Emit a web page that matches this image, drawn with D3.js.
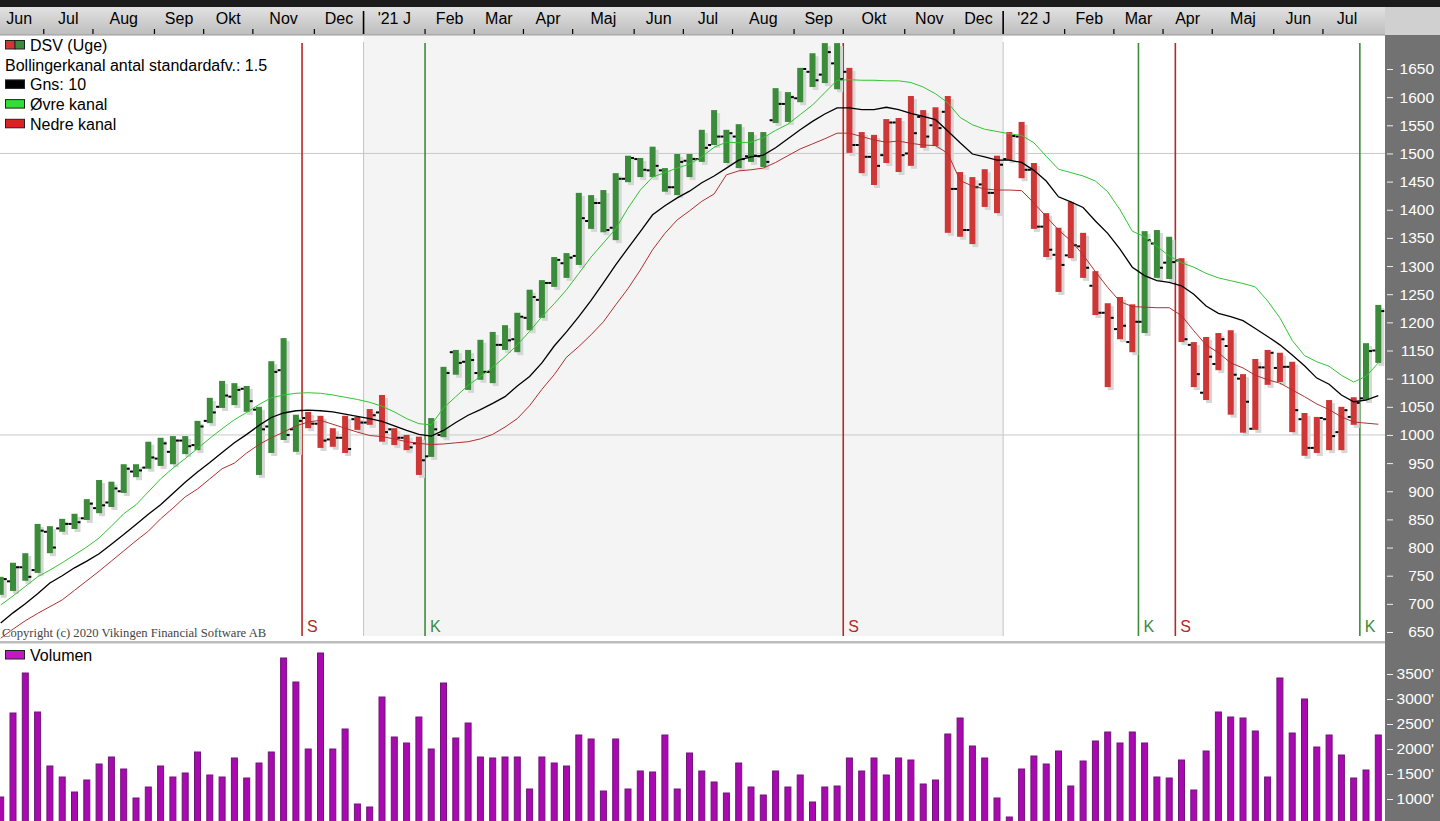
<!DOCTYPE html>
<html>
<head>
<meta charset="utf-8">
<script src="https://cdnjs.cloudflare.com/ajax/libs/d3/7.8.5/d3.min.js"></script>
<style>
body{margin:0;background:#fff;overflow:hidden}
svg{display:block;font-family:"Liberation Sans",Arial,sans-serif}
</style>
</head>
<body>
<div id="chart"></div>
<script>
// DSV weekly bars, first week starts sunday 7 jun 2020
const firstWeek = new Date(2020, 5, 7);
const monthNames = ["J","Feb","Mar","Apr","Maj","Jun","Jul","Aug","Sep","Okt","Nov","Dec"];

const open = [722,740,765,760,828,834,842,852,870,880,900,935,942,958,970,990,982,1025,1050,1068,1082,1045,1015,1115,1010,
  1030,1020,992,995,1028,1022,1040,1010,995,985,
  962,1000,1147,1130,1110,1112,1160,1170,1208,1240,1270,1305,1318,1380,1412,1368,1455,1490,1470,1470,1440,1487,1490,1515,1530,1530,1495,1495,1559,1588,1598,1645,1640,1660,
  1645,1515,1494,1497,1555,1500,1565,1550,1574,1437,1364,1445,1430,1490,1530,1471,1370,1320,1319,1335,1265,1217,1188,1165,
  1201,1340,1306,
  1310,1160,1075,1126,1158,1100,1011,1120,1119,1121,1028,977,1028,1005,1032,
  1065,1150];
const high = [748,773,790,842,838,851,860,886,920,917,948,948,988,995,998,998,1025,1066,1096,1092,1087,1050,1131,1172,1036,
  1041,1034,1012,1034,1032,1046,1071,1012,1000,997,
  1030,1121,1151,1151,1169,1183,1195,1217,1258,1275,1316,1323,1430,1426,1435,1465,1496,1492,1512,1474,1499,1499,1542,1577,1542,1552,1538,1538,1616,1609,1652,1678,1696,1696,
  1652,1538,1533,1561,1563,1602,1577,1582,1602,1467,1458,1472,1496,1538,1556,1483,1394,1368,1414,1359,1291,1234,1245,1232,
  1362,1364,1352,
  1314,1165,1174,1181,1186,1108,1135,1151,1146,1130,1039,1032,1062,1050,1067,
  1163,1231];
const low = [716,723,741,755,790,828,833,849,861,872,897,925,940,945,948,966,973,1021,1048,1053,1041,929,968,991,970,
  1012,977,979,968,1009,1018,988,982,973,929,
  961,996,1107,1080,1098,1092,1151,1147,1186,1208,1263,1279,1302,1366,1360,1346,1449,1458,1458,1432,1426,1458,1485,1515,1483,1474,1485,1476,1554,1556,1591,1618,1625,1614,
  1501,1465,1444,1483,1467,1478,1510,1513,1359,1352,1339,1405,1394,1488,1456,1366,1316,1254,1314,1279,1213,1085,1170,1147,
  1181,1279,1277,
  1165,1085,1062,1115,1036,1004,1009,1089,1094,1005,963,968,973,973,1018,
  1062,1128];
const close = [744,765,748,830,800,842,845,878,875,905,940,937,960,985,990,980,1015,1040,1070,1080,1060,1010,1112,1000,1025,
  1020,990,995,975,1022,1035,1005,995,978,955,
  1010,1110,1128,1133,1112,1160,1168,1210,1245,1270,1311,1315,1385,1412,1364,1455,1492,1471,1478,1440,1485,1490,1510,1530,1536,1490,1496,1485,1588,1600,1650,1630,1680,1632,
  1515,1494,1478,1555,1497,1536,1530,1545,1437,1364,1440,1430,1480,1531,1471,1370,1329,1302,1337,1297,1217,1208,1194,1201,
  1346,1297,1307,
  1170,1108,1139,1170,1107,1059,1120,1146,1121,1044,977,1030,998,1044,1057,
  1149,1220];

// bollinger channel (10 weeks, 1.5 sd)
const bandUpper = [698,714,731,748,760,773,787,801,817,838,860,876,899,922,941,958,976,994,1011,1027,1040,1054,1066,1071,1074,
  1075,1074,1071,1067,1063,1058,1051,1041,1029,1020,
  1018,1048,1068,1088,1104,1120,1139,1160,1184,1210,1233,1258,1287,1316,1341,1366,1403,1435,1458,1466,1474,1481,1494,1511,1520,1519,1520,1528,1541,1552,1569,1586,1608,1630,
  1631,1630,1630,1629,1629,1626,1618,1606,1590,1564,1551,1543,1539,1535,1532,1519,1495,1472,1466,1460,1451,1432,1400,1362,
  1352,1335,1318,
  1306,1298,1287,1279,1274,1269,1263,1238,1208,1168,1141,1130,1122,1106,1094,
  1104,1128];
const bandMid = [666,684,700,718,737,750,764,776,789,806,823,841,859,876,896,916,934,951,969,986,1001,1017,1031,1039,1043,
  1044,1043,1041,1037,1033,1029,1024,1016,1008,1001,
  998,1008,1022,1035,1045,1056,1068,1087,1104,1128,1158,1183,1210,1239,1270,1302,1332,1361,1391,1407,1421,1433,1448,1460,1474,1488,1494,1497,1510,1526,1542,1557,1570,1581,
  1581,1578,1578,1582,1578,1571,1566,1560,1540,1519,1499,1494,1488,1488,1484,1470,1451,1423,1414,1404,1380,1358,1330,1298,
  1283,1274,1271,
  1265,1250,1229,1216,1210,1203,1189,1175,1160,1142,1123,1101,1090,1071,1059,
  1062,1070];
const bandLower = [639,655,670,683,695,707,724,741,758,776,794,812,829,851,870,890,904,922,940,950,968,983,995,1005,1016,
  1023,1026,1019,1012,1005,999,997,993,988,985,
  983,984,986,988,993,1001,1014,1029,1052,1081,1107,1138,1157,1178,1201,1231,1260,1293,1329,1358,1382,1398,1415,1428,1462,1469,1471,1474,1484,1496,1508,1517,1526,1536,
  1536,1530,1524,1520,1522,1518,1515,1514,1500,1452,1442,1437,1435,1435,1434,1412,1388,1364,1345,1320,1290,1262,1237,1228,
  1227,1226,1226,
  1212,1185,1160,1146,1128,1119,1106,1098,1092,1080,1068,1055,1045,1032,1023,
  1021,1019];

// volume in thousands
const volume = [1040,2720,3520,2740,1660,1440,1140,1380,1700,1840,1600,1020,1240,1660,1440,1520,1940,1480,1440,1820,
  1420,1720,1940,3820,3340,2000,3920,2000,2400,900,840,3040,2240,2120,2640,2000,3320,2220,2520,1840,
  1820,1840,1840,1200,1840,1720,1660,2280,2200,1160,2200,1200,1560,1540,2280,1200,1920,1560,1340,1120,
  1720,1240,1080,1560,1240,1480,940,1240,1260,1820,1560,1820,1480,1820,1780,1300,1380,2300,2620,2060,
  1820,1020,640,1600,1860,1700,1960,1260,1760,2160,2340,2120,2340,2120,1440,1420,1780,1180,1960,2740,
  2640,2620,2360,1440,3420,2320,3000,2040,2280,1880,1420,1580,2280];

// buy (K) / sell (S) signals, placed between weeks
const signals = [
  {pos: 24.5, type: "S"},
  {pos: 34.5, type: "K"},
  {pos: 68.5, type: "S"},
  {pos: 92.5, type: "K"},
  {pos: 95.5, type: "S"},
  {pos: 110.5, type: "K"}
];

const priceTicks = [650,700,750,800,850,900,950,1000,1050,1100,1150,1200,1250,1300,1350,1400,1450,1500,1550,1600,1650];
const volumeTicks = [1000,1500,2000,2500,3000,3500];
const gridValues = [1000,1500];

const width = 1440, height = 821;
const plotRight = 1385;
const priceTop = 36, priceBottom = 641, volTop = 645;
const green = "#3a8c3a", red = "#cf3636";

let svg = d3.select("#chart").append("svg")
    .attr("width", width)
    .attr("height", height);

let x = d3.scaleLinear().domain([0, high.length - 1]).range([0.7, 0.7 + 12.3 * (high.length - 1)]);
let y = d3.scaleLinear().domain([650, 1650]).range([632, 69]);
let yVol = d3.scaleLinear().domain([1000, 3500]).range([799, 674]);

let defs = svg.append("defs");
let grad = defs.append("linearGradient").attr("id", "axisGrad").attr("x1", 0).attr("x2", 0).attr("y1", 0).attr("y2", 1);
grad.append("stop").attr("offset", "0%").attr("stop-color", "#e2e2e2");
grad.append("stop").attr("offset", "100%").attr("stop-color", "#bdbdbd");
defs.append("clipPath").attr("id", "priceClip").append("rect")
    .attr("x", 0).attr("y", priceTop).attr("width", plotRight).attr("height", priceBottom - priceTop);
defs.append("clipPath").attr("id", "volClip").append("rect")
    .attr("x", 0).attr("y", volTop).attr("width", plotRight).attr("height", height - volTop);

svg.append("rect").attr("width", width).attr("height", height).attr("fill", "#fff");

//week dates, month spans and year changes
let weeks = high.map((d, i) => d3.timeDay.offset(firstWeek, 7 * i));
let months = d3.groups(weeks.map((d, i) => ({d: d, i: i})), o => d3.timeMonth.floor(o.d).getTime())
    .map(([k, arr]) => ({date: new Date(k), i0: arr[0].i - 0.5, i1: arr[arr.length - 1].i + 0.5}));
let years = months.filter(m => m.date.getMonth() == 0);

function barColor(i){
    let state = "K";
    signals.forEach(s => { if (s.pos < i) state = s.type; });
    return state == "K" ? green : red;
}

// ---------- price panel ----------
let price = svg.append("g").attr("clip-path", "url(#priceClip)");

// 2021 shaded
years.forEach((m, k) => {
    if (k + 1 < years.length) {
        price.append("rect")
            .attr("x", x(m.i0)).attr("y", priceTop)
            .attr("width", x(years[k + 1].i0) - x(m.i0))
            .attr("height", 636 - priceTop)
            .attr("fill", "#f4f4f4");
    }
});

price.selectAll(".grid").data(gridValues).enter().append("line")
    .attr("x1", 0).attr("x2", plotRight)
    .attr("y1", d => y(d)).attr("y2", d => y(d))
    .attr("stroke", "#c8c8c8").attr("stroke-width", 1);

price.selectAll(".yearline").data(years).enter().append("line")
    .attr("x1", d => x(d.i0)).attr("x2", d => x(d.i0))
    .attr("y1", 42).attr("y2", 636)
    .attr("stroke", "#c4c4c4").attr("stroke-width", 1);

// signal lines
let sig = price.selectAll(".sig").data(signals).enter().append("g");
sig.append("line")
    .attr("x1", d => x(d.pos)).attr("x2", d => x(d.pos))
    .attr("y1", 43).attr("y2", 636)
    .attr("stroke", d => d.type == "S" ? "#b42828" : "#3c8c3c")
    .attr("stroke-width", 1.6);
sig.append("text")
    .attr("x", d => x(d.pos) + 5).attr("y", 632)
    .attr("font-size", 16)
    .attr("fill", d => d.type == "S" ? "#b42828" : "#3c8c3c")
    .text(d => d.type);

// bars
let idx = d3.range(high.length);
price.selectAll(".shadow").data(idx).enter().append("rect")
    .attr("x", i => x(i))
    .attr("y", i => y(high[i]) + 3)
    .attr("width", 6)
    .attr("height", i => y(low[i]) - y(high[i]))
    .attr("fill", "#d6d6d6");
price.selectAll(".bar").data(idx).enter().append("rect")
    .attr("x", i => x(i) - 3)
    .attr("y", i => y(high[i]))
    .attr("width", 6)
    .attr("height", i => y(low[i]) - y(high[i]))
    .attr("fill", i => barColor(i));
price.selectAll(".otick").data(idx).enter().append("rect")
    .attr("x", i => x(i) - 6).attr("y", i => y(open[i]) - 1)
    .attr("width", 3).attr("height", 2).attr("fill", "#000");
price.selectAll(".ctick").data(idx).enter().append("rect")
    .attr("x", i => x(i) + 3).attr("y", i => y(close[i]) - 1)
    .attr("width", 3).attr("height", 2).attr("fill", "#000");

// bollinger lines
let line = arr => d3.line().x((d, i) => x(i)).y(d => y(d))(arr);
price.append("path").attr("d", line(bandLower)).attr("fill", "none").attr("stroke", "#b03030").attr("stroke-width", 1);
price.append("path").attr("d", line(bandUpper)).attr("fill", "none").attr("stroke", "#33c433").attr("stroke-width", 1);
price.append("path").attr("d", line(bandMid)).attr("fill", "none").attr("stroke", "#000").attr("stroke-width", 1.3);

// legend
let legend = [
    {label: "DSV (Uge)", sw: [red, green]},
    {label: "Bollingerkanal antal standardafv.: 1.5", sw: null},
    {label: "Gns: 10", sw: ["#000"]},
    {label: "\u00D8vre kanal", sw: ["#33dd33"]},
    {label: "Nedre kanal", sw: ["#dd2222"]}
];
let leg = svg.append("g");
legend.forEach((d, k) => {
    let by = 51 + k * 19.7;
    if (d.sw) {
        let w = 19 / d.sw.length;
        d.sw.forEach((c, j) => {
            leg.append("rect").attr("x", 5.5 + j * w).attr("y", by - 10.5)
                .attr("width", w).attr("height", 8.5)
                .attr("fill", c).attr("stroke", "#222").attr("stroke-width", 1);
        });
    }
    leg.append("text")
        .attr("x", d.sw ? 30 : 5).attr("y", by)
        .attr("font-size", 16).attr("fill", "#000")
        .text(d.label);
});

svg.append("text")
    .attr("x", 2).attr("y", 637)
    .attr("font-family", "'Liberation Serif','Times New Roman',serif")
    .attr("font-size", 12.6).attr("fill", "#444")
    .text("Copyright (c) 2020 Vikingen Financial Software AB");

// panel separator
svg.append("rect").attr("x", 0).attr("y", 641).attr("width", plotRight).attr("height", 2.5).attr("fill", "#bcbcbc");

// ---------- volume panel ----------
let vol = svg.append("g").attr("clip-path", "url(#volClip)");
vol.selectAll(".vbar").data(idx).enter().append("rect")
    .attr("x", i => x(i) - 3)
    .attr("y", i => yVol(volume[i]))
    .attr("width", 6)
    .attr("height", i => yVol(0) - yVol(volume[i]))
    .attr("fill", "#aa08b0")
    .attr("stroke", "#6c1876")
    .attr("stroke-width", 1);

vol.append("rect").attr("x", 5.5).attr("y", 650.5).attr("width", 19).attr("height", 8.5)
    .attr("fill", "#c418c4").attr("stroke", "#222");
vol.append("text").attr("x", 30).attr("y", 661).attr("font-size", 16).text("Volumen");

// ---------- top date axis ----------
svg.append("rect").attr("x", 0).attr("y", 0).attr("width", width).attr("height", 7).attr("fill", "#1c1c1c");
svg.append("rect").attr("x", 0).attr("y", 7).attr("width", width).attr("height", 28).attr("fill", "url(#axisGrad)");
svg.append("line").attr("x1", 0).attr("x2", width).attr("y1", 35).attr("y2", 35).attr("stroke", "#9a9a9a");

let dateAxis = svg.append("g");
dateAxis.selectAll(".mlabel").data(months).enter().append("text")
    .attr("x", d => (x(d.i0) + Math.min(x(d.i1), plotRight - 14)) / 2)
    .attr("y", 24)
    .attr("text-anchor", "middle")
    .attr("font-size", 16)
    .attr("fill", "#000")
    .text(d => d.date.getMonth() == 0
        ? "'" + String(d.date.getFullYear()).slice(2) + " " + monthNames[0]
        : monthNames[d.date.getMonth()]);
dateAxis.selectAll(".mtick").data(months.slice(1)).enter().append("line")
    .attr("x1", d => x(d.i0)).attr("x2", d => x(d.i0))
    .attr("y1", d => d.date.getMonth() == 0 ? 11 : 29)
    .attr("y2", 34)
    .attr("stroke", "#000")
    .attr("stroke-width", d => d.date.getMonth() == 0 ? 1.6 : 1.2);

// ---------- right value axis ----------
svg.append("rect").attr("x", plotRight).attr("y", 7).attr("width", width - plotRight).attr("height", 28).attr("fill", "#d0d0d0");
svg.append("rect").attr("x", plotRight).attr("y", 35).attr("width", width - plotRight).attr("height", height - 35).attr("fill", "#727272");

let yAxis = svg.append("g")
    .attr("transform", "translate(" + plotRight + ",0)")
    .call(d3.axisRight(y).tickValues(priceTicks).tickSize(6).tickFormat(d3.format("d")));
let vAxis = svg.append("g")
    .attr("transform", "translate(" + plotRight + ",0)")
    .call(d3.axisRight(yVol).tickValues(volumeTicks).tickSize(6).tickFormat(d => d + "'"));
[yAxis, vAxis].forEach(a => {
    a.select(".domain").remove();
    a.selectAll(".tick line").attr("stroke", "#f0f0f0").attr("x1", 2).attr("x2", 8);
    a.selectAll(".tick text")
        .attr("x", 49).attr("text-anchor", "end")
        .attr("fill", "#fff")
        .attr("font-size", 15.5)
        .attr("font-family", "'Liberation Sans',Arial,sans-serif");
});
</script>
</body>
</html>
